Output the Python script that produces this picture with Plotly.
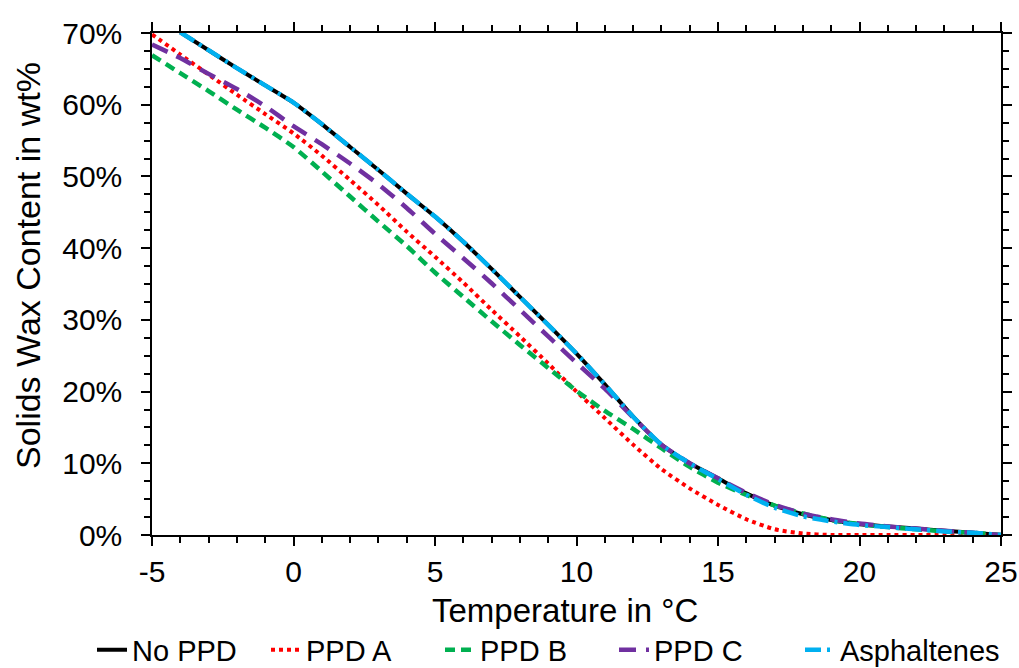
import plotly.graph_objects as go

temps = list(range(-5, 26))

no_ppd = [None, 70.1, 67.6, 65.1, 62.7, 60.3, 57.3, 54.1, 50.9, 47.6, 44.4, 40.9, 37.1, 33.2, 29.3,
          25.3, 21.0, 16.5, 12.6, 10.0, 7.9, 5.8, 4.1, 2.9, 2.1, 1.5, 1.2, 0.9, 0.6, 0.3, 0.0]
ppd_a = [69.8, 67.0, 64.2, 61.4, 58.7, 56.0, 52.9, 49.5, 46.0, 42.3, 38.8, 35.2, 31.4, 27.7, 23.9,
         20.0, 16.3, 12.6, 9.2, 6.5, 4.2, 2.2, 0.8, 0.2, 0.0, 0.0, 0.0, 0.0, 0.0, 0.0, 0.0]
ppd_b = [66.9, 64.4, 61.9, 59.3, 56.8, 54.1, 50.7, 47.2, 43.7, 40.3, 36.6, 33.2, 29.8, 26.5, 23.3,
         20.1, 17.3, 14.8, 12.1, 9.5, 7.3, 5.6, 4.1, 3.0, 2.1, 1.5, 1.1, 0.8, 0.5, 0.3, 0.0]
ppd_c = [68.4, 66.5, 64.3, 62.2, 59.8, 57.0, 54.5, 51.8, 48.9, 45.6, 42.0, 38.6, 35.1, 31.4, 27.7,
         24.0, 20.4, 16.4, 12.6, 10.0, 7.9, 5.9, 4.2, 3.0, 2.2, 1.6, 1.2, 0.9, 0.6, 0.3, 0.0]
asphaltenes = [None, 70.1, 67.6, 65.1, 62.7, 60.3, 57.3, 54.1, 50.9, 47.6, 44.4, 40.9, 37.1, 33.2, 29.3,
               25.3, 21.0, 16.5, 12.6, 10.0, 7.8, 5.6, 3.8, 2.6, 1.9, 1.4, 1.1, 0.8, 0.5, 0.3, 0.0]

series_names = ["No PPD", "PPD A", "PPD B", "PPD C", "Asphaltenes"]
series_values = [no_ppd, ppd_a, ppd_b, ppd_c, asphaltenes]

x_tick_values = [-5, 0, 5, 10, 15, 20, 25]
x_tick_labels = ["-5", "0", "5", "10", "15", "20", "25"]
x_title = "Temperature in °C"
y_title = "Solids Wax Content in wt%"

colors = ["#000000", "#FF0000", "#00B050", "#7030A0", "#00B0F0"]
dashes = ["solid", "4px,4px", "10px,6px", "17px,10px", "16px,6px,3px,6px"]
widths = [4, 4, 4.5, 4.5, 4.5]
legend_ids = ["legend", "legend", "legend", "legend", "legend2"]

FONT = "Liberation Sans, Arial, sans-serif"

fig = go.Figure()
for name, vals, c, d, w, lg in zip(series_names, series_values, colors, dashes, widths, legend_ids):
    fig.add_trace(go.Scatter(
        x=temps, y=[None if v is None else v / 100 for v in vals],
        mode="lines", name=name, legend=lg,
        line=dict(color=c, dash=d, width=w, shape="spline", smoothing=0.6),
        connectgaps=False,
    ))

axis_common = dict(
    showline=True, linecolor="black", linewidth=1.5, mirror="ticks",
    ticks="outside", ticklen=9, tickwidth=1.5, tickcolor="black",
    showgrid=False, zeroline=False, automargin=False,
    tickfont=dict(family=FONT, size=30, color="black"),
)

fig.update_xaxes(
    range=[-5, 25], tickmode="array", tickvals=x_tick_values, ticktext=x_tick_labels,
    minor=dict(dtick=1, tick0=-5, ticks="outside", ticklen=6, tickwidth=1.5, tickcolor="black"),
    **axis_common,
)
fig.update_yaxes(
    range=[0, 0.7], dtick=0.1, tickformat=".0%", ticklabelstandoff=13,
    minor=dict(dtick=0.025, ticks="outside", ticklen=6, tickwidth=1.5, tickcolor="black"),
    **axis_common,
)

fig.add_annotation(text=x_title, xref="paper", yref="paper",
                   x=(565 - 152) / 849, y=(535 - 610) / 502,
                   xanchor="center", yanchor="middle", showarrow=False,
                   font=dict(family=FONT, size=33, color="black"))
fig.add_annotation(text=y_title, xref="paper", yref="paper",
                   x=(28 - 152) / 849, y=(535 - 266) / 502, textangle=-90,
                   xanchor="center", yanchor="middle", showarrow=False,
                   font=dict(family=FONT, size=34, color="black"))

legend_font = dict(family=FONT, size=29, color="black")
legend_y = (535 - 650) / 502

fig.update_layout(
    width=1019, height=668,
    margin=dict(l=152, r=18, t=33, b=133, autoexpand=False),
    paper_bgcolor="white", plot_bgcolor="white",
    font=dict(family=FONT, color="black"),
    legend=dict(orientation="h", xref="paper", x=(92 - 152) / 849, xanchor="left",
                yref="paper", y=legend_y, yanchor="middle",
                font=legend_font, itemwidth=30,
                entrywidth=129, entrywidthmode="pixels", tracegroupgap=0),
    legend2=dict(orientation="h", xref="paper", x=(800 - 152) / 849, xanchor="left",
                 yref="paper", y=legend_y, yanchor="middle",
                 font=legend_font, itemwidth=30, tracegroupgap=0),
    showlegend=True,
)

fig.write_html("out.html", config={"displayModeBar": False},
               post_script="document.body.style.margin='0';")
